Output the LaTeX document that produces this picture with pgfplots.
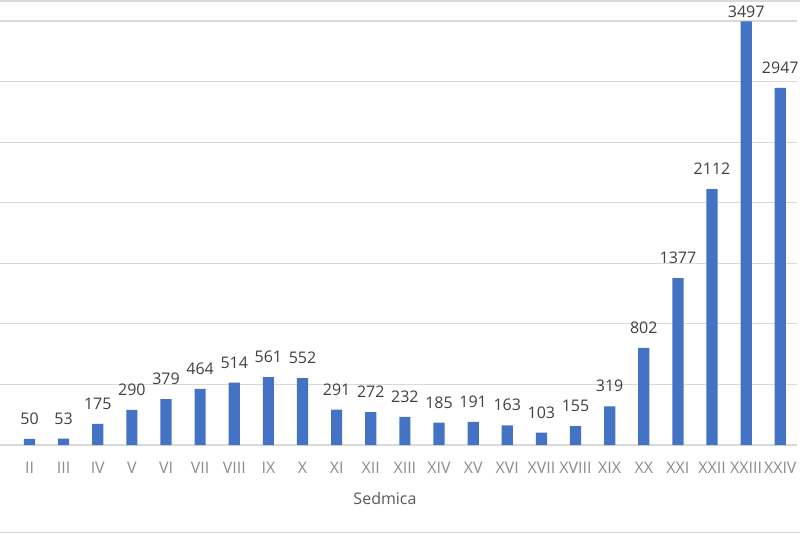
\documentclass[border=0pt]{standalone}
\usepackage{fontspec}
\setmainfont{Open Sans}
\usepackage{pgfplots}
\pgfplotsset{compat=1.18}
\usepackage{pgfplotstable}
\definecolor{barblue}{HTML}{4472C4}
\definecolor{gridgray}{HTML}{D9D9D9}
\definecolor{ticktext}{HTML}{8C8C8C}
\definecolor{labtext}{HTML}{404040}
\definecolor{titletext}{HTML}{595959}
\pgfplotstableread{
x y s
2 50 10.5
3 53 10.5
4 175 10.5
5 290 10.5
6 379 10.5
7 464 10.5
8 514 10.5
9 561 10.5
10 552 10.5
11 291 10.5
12 272 10.5
13 232 10.5
14 185 10.5
15 191 10.5
16 163 10.5
17 103 10.5
18 155 10.5
19 319 10.5
20 802 10.5
21 1377 10.5
22 2112 10.5
23 3497 2.25
24 2947 10.5
}\datatable
\begin{document}
\begin{tikzpicture}
\useasboundingbox (0pt,0pt) rectangle (600pt,399.75pt);
\clip (0pt,0pt) rectangle (600pt,399.75pt);
\draw[gridgray, line width=0.8pt] (0pt,0.6pt) -- (600pt,0.6pt);
\draw[gridgray, line width=0.8pt] (0pt,399pt) -- (600pt,399pt);
\begin{axis}[
  at={(-0.75pt,66pt)}, anchor=south west,
  scale only axis, width=598.5pt, height=318pt,
  xmin=1.106, xmax=24.49, ymin=0, ymax=3500,
  axis line style={draw=none},
  ytick={0,500,...,3500}, yticklabels={},
  ymajorgrids, grid style={gridgray, line width=0.8pt},
  major tick length=0pt,
  xtick={2,...,24},
  xticklabels={II,III,IV,V,VI,VII,VIII,IX,X,XI,XII,XIII,XIV,XV,XVI,XVII,XVIII,XIX,XX,XXI,XXII,XXIII,XXIV},
  xticklabel style={font=\fontsize{12}{14}\selectfont, text=ticktext, anchor=base, yshift=-21pt, inner sep=0pt},
  xlabel={Sedmica},
  xlabel style={at={(axis description cs:0.4837,0)}, anchor=base, yshift=-44.25pt, font=\fontsize{12}{14}\selectfont, text=titletext, inner sep=0pt},
  clip=false,
]
\addplot[ybar, bar width=8.4pt, fill=barblue, draw=none,
  point meta=explicit symbolic,
  visualization depends on={\thisrow{s}\as\labshift},
  nodes near coords,
  nodes near coords style={font=\fontsize{12}{14}\selectfont, text=labtext, anchor=south, inner sep=0pt, yshift=\labshift pt},
] table[x=x, y=y, meta=y] {\datatable};
\end{axis}
\end{tikzpicture}
\end{document}
